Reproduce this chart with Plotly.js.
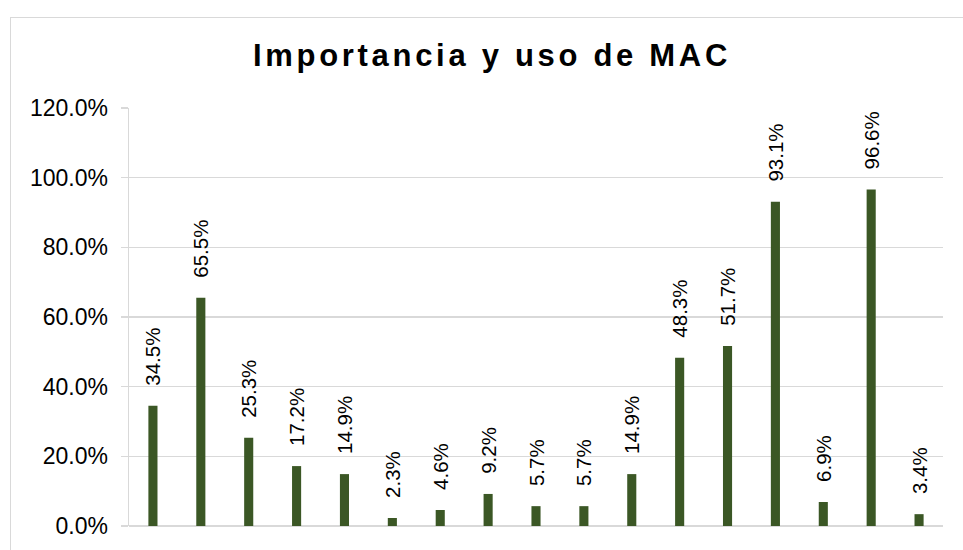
<!DOCTYPE html>
<html>
<head>
<meta charset="utf-8">
<script src="https://cdn.plot.ly/plotly-3.0.1.min.js"></script>
<style>
  html, body { margin: 0; padding: 0; background: #fff; overflow: hidden; }
  #frame { position: absolute; left: 10px; top: 17px; width: 1000px; height: 600px; border: 1px solid #d9d9d9; box-sizing: border-box; }
  #chart { position: absolute; left: 0; top: 0; width: 963px; height: 550px; }
  #chart .gtitle { letter-spacing: 3.7px; }
</style>
</head>
<body>
<div id="frame"></div>
<div id="chart"></div>
<script>
const categories = ['C1','C2','C3','C4','C5','C6','C7','C8','C9','C10','C11','C12','C13','C14','C15','C16','C17'];
const values = [0.345, 0.655, 0.253, 0.172, 0.149, 0.023, 0.046, 0.092, 0.057, 0.057, 0.149, 0.483, 0.517, 0.931, 0.069, 0.966, 0.034];
const yTickVals = [0, 0.2, 0.4, 0.6, 0.8, 1.0, 1.2];
const yTickText = ['0.0%', '20.0%', '40.0%', '60.0%', '80.0%', '100.0%', '120.0%'];
const titleText = 'Importancia y uso de MAC';

const trace = {
  type: 'bar',
  x: categories,
  y: values,
  marker: { color: '#3b5725' },
  texttemplate: '\u00a0\u00a0\u00a0%{y:.1%}',
  textposition: 'outside',
  textangle: -90,
  constraintext: 'none',
  cliponaxis: false,
  textfont: { family: 'Liberation Sans, Arial, sans-serif', size: 20.5, color: '#000' },
  hoverinfo: 'skip'
};

const layout = {
  width: 963,
  height: 550,
  margin: { l: 129, r: 20, t: 107.5, b: 24.3 },
  paper_bgcolor: 'rgba(0,0,0,0)',
  plot_bgcolor: 'rgba(0,0,0,0)',
  showlegend: false,
  bargap: 0.81,
  font: { family: 'Liberation Sans, Arial, sans-serif', color: '#000' },
  title: {
    text: '<b>' + titleText + '</b>',
    font: { family: 'Liberation Sans, Arial, sans-serif', size: 31, color: '#000' },
    x: 492 / 963, xanchor: 'center', xref: 'container',
    y: 1 - 44 / 550, yanchor: 'top', yref: 'container'
  },
  xaxis: {
    type: 'category',
    range: [-0.5, categories.length - 0.5],
    showticklabels: false,
    showgrid: false,
    showline: false,
    zeroline: false,
    ticks: '',
    fixedrange: true
  },
  yaxis: {
    range: [0, 1.2],
    tickvals: yTickVals,
    ticktext: yTickText,
    tickfont: { family: 'Liberation Sans, Arial, sans-serif', size: 23, color: '#000' },
    showgrid: true,
    gridcolor: '#d9d9d9',
    gridwidth: 1.5,
    zeroline: true,
    zerolinecolor: '#d9d9d9',
    zerolinewidth: 1.5,
    showline: true,
    linecolor: '#d9d9d9',
    linewidth: 1.5,
    ticks: 'outside',
    ticklen: 7,
    tickcolor: '#d9d9d9',
    tickwidth: 1.5,
    ticklabelstandoff: 8,
    fixedrange: true
  }
};

Plotly.newPlot('chart', [trace], layout, { staticPlot: true, displayModeBar: false });
</script>
</body>
</html>
